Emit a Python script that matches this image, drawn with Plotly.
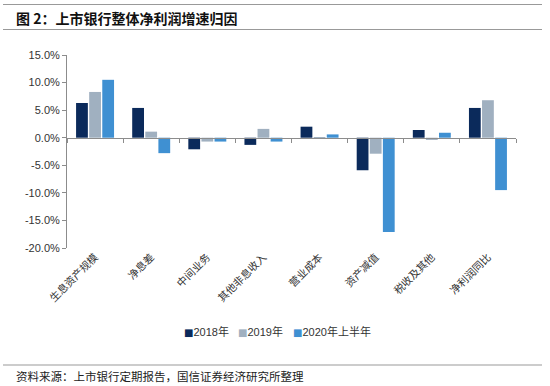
import plotly.graph_objects as go

categories = ["生息资产规模", "净息差", "中间业务", "其他非息收入", "营业成本", "资产减值", "税收及其他", "净利润同比"]
series_names = ["2018年", "2019年", "2020年上半年"]
v2018 = [6.3, 5.4, -2.1, -1.3, 2.0, -5.9, 1.4, 5.4]
v2019 = [8.3, 1.1, -0.7, 1.6, 0.1, -2.9, -0.4, 6.8]
v2020h1 = [10.5, -2.8, -0.7, -0.7, 0.6, -17.1, 0.9, -9.5]
ytickvals = [15, 10, 5, 0, -5, -10, -15, -20]
title_text = "图 2：上市银行整体净利润增速归因"
source_text = "资料来源：上市银行定期报告，国信证券经济研究所整理"

colors = ["#0b2a5b", "#a0b0c0", "#3f90d2"]

W, H = 550, 386
ML, MR, MT, MB = 67, 34, 55, 138
PW, PH = W - ML - MR, H - MT - MB

def px_x(p):
    return (p - ML) / PW

def px_y(p):
    return (H - MB - p) / PH

fig = go.Figure()
for name, vals, c in zip(series_names, [v2018, v2019, v2020h1], colors):
    fig.add_trace(go.Bar(x=categories, y=vals, name=name, showlegend=False,
                         marker=dict(color=c, line=dict(width=0))))

# invisible trace carrying the zero-line axis with boundary ticks
fig.add_trace(go.Scatter(x=categories, y=[None] * len(categories), xaxis="x2", showlegend=False,
                         hoverinfo="skip", mode="markers"))

font_cjk = "Noto Sans CJK SC, Arial, sans-serif"

fig.update_layout(
    width=W, height=H,
    margin=dict(l=ML, r=MR, t=MT, b=MB, autoexpand=False),
    paper_bgcolor="white", plot_bgcolor="white",
    barmode="group", bargap=0.3, bargroupgap=0.1,
    font=dict(family="Arial, " + font_cjk, color="#333333", size=11),
    xaxis=dict(type="category", categoryarray=categories, range=[-0.5, 7.5],
               showline=False, ticks="", showgrid=False, zeroline=False,
               tickangle=-45, tickfont=dict(family=font_cjk, size=10.5, color="#333333")),
    xaxis2=dict(type="category", categoryarray=categories, range=[-0.5, 7.5], overlaying="x",
                anchor="free", position=20 / 35, showline=True, linecolor="#8c8c8c", linewidth=1,
                ticks="outside", tickson="boundaries", ticklen=4, tickcolor="#8c8c8c",
                showticklabels=False, showgrid=False, zeroline=False),
    yaxis=dict(range=[-20, 15], tickvals=ytickvals, ticktext=[f"{v:.1f}%" for v in ytickvals],
               showline=True, linecolor="#8c8c8c", linewidth=1, ticks="outside", ticklen=4,
               tickcolor="#8c8c8c", showgrid=False, zeroline=False,
               tickfont=dict(family="Arial", size=11, color="#333333")),
    showlegend=False,
)

# legend drawn as text entries (small square + label)
legend_x = [183, 237, 292]
for name, c, lx in zip(series_names, colors, legend_x):
    fig.add_annotation(
        text=f"<span style='font-family:DejaVu Sans;font-size:10px;color:{c}'>■</span>{name}",
        xref="paper", yref="paper", x=px_x(lx - 1), y=px_y(331), xanchor="left", yanchor="middle",
        showarrow=False, font=dict(family="Arial, " + font_cjk, size=11, color="#333333"))

fig.add_annotation(text="<b>" + title_text + "</b>", xref="paper", yref="paper",
                   x=px_x(14), y=px_y(18), xanchor="left", yanchor="middle", showarrow=False,
                   font=dict(family=font_cjk, size=14, color="#111111"))
fig.add_annotation(text=source_text, xref="paper", yref="paper",
                   x=px_x(14), y=px_y(376), xanchor="left", yanchor="middle", showarrow=False,
                   font=dict(family=font_cjk, size=11.5, color="#222222"))

for yy in [4.5, 29.5, 365]:
    fig.add_shape(type="line", xref="paper", yref="paper", x0=px_x(3), x1=px_x(542),
                  y0=px_y(yy), y1=px_y(yy), line=dict(color="#999999", width=1))

fig.write_html("out.html", config={"displayModeBar": False},
               post_script="document.body.style.margin='0';")
